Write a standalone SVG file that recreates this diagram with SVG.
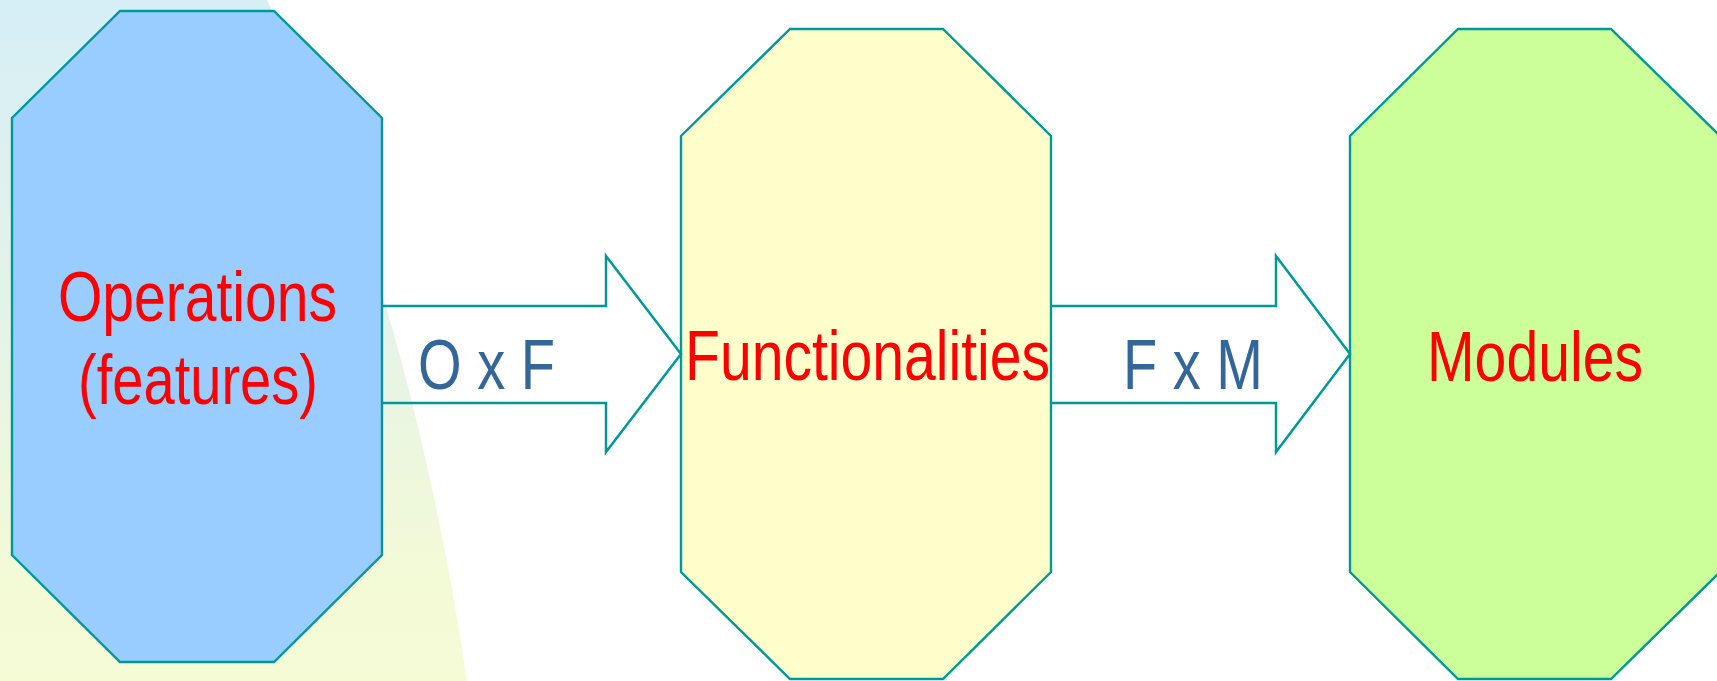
<svg xmlns="http://www.w3.org/2000/svg" width="1717" height="681" viewBox="0 0 1717 681">
  <defs>
    <linearGradient id="bgGrad" x1="0" y1="0" x2="0" y2="681" gradientUnits="userSpaceOnUse">
      <stop offset="0" stop-color="#d6eef6"/>
      <stop offset="0.5" stop-color="#e6f4e6"/>
      <stop offset="0.85" stop-color="#f3fad6"/>
      <stop offset="1" stop-color="#f4fbd5"/>
    </linearGradient>
  </defs>
  <style>
    .oct { stroke: #009999; stroke-width: 2.4; stroke-linejoin: miter; }
    .arrow { fill: none; stroke: #009999; stroke-width: 2.5; stroke-linejoin: miter; }
    .lbl { font-family: "Liberation Sans Narrow", "Liberation Sans", Arial, sans-serif; font-size: 71px; fill: #ff0000; }
    .rel { font-family: "Liberation Sans Narrow", "Liberation Sans", Arial, sans-serif; font-size: 70px; fill: #336699; }
  </style>
  <rect x="0" y="0" width="1717" height="681" fill="#ffffff"/>
  <path d="M0,0 L267,0 Q407,280 467,681 L0,681 Z" fill="url(#bgGrad)"/>

  <g id="node-operations">
    <polygon class="oct" fill="#99ccff" points="120,11 274,11 382,118 382,555 274,662 120,662 12,555 12,118"/>
    <text class="lbl" x="58" y="321" textLength="279" lengthAdjust="spacingAndGlyphs">Operations</text>
    <text class="lbl" x="78" y="404" textLength="240" lengthAdjust="spacingAndGlyphs">(features)</text>
  </g>

  <g id="node-functionalities">
    <polygon class="oct" fill="#ffffcc" points="790,29 943,29 1051,136 1051,572 943,679 790,679 681,572 681,136"/>
    <text class="lbl" x="685" y="380" textLength="365" lengthAdjust="spacingAndGlyphs">Functionalities</text>
  </g>

  <g id="node-modules">
    <polygon class="oct" fill="#ccff99" points="1458,29 1611,29 1720,136 1720,572 1611,679 1458,679 1350,572 1350,136"/>
    <text class="lbl" x="1427" y="381" textLength="216" lengthAdjust="spacingAndGlyphs">Modules</text>
  </g>

  <g id="connectors">
    <g id="arrow-OxF">
      <path class="arrow" d="M382,306 L606,306 L606,256 L681,354 L606,452 L606,403 L382,403"/>
      <text class="rel" x="418" y="389" textLength="137" lengthAdjust="spacingAndGlyphs">O x F</text>
    </g>
    <g id="arrow-FxM">
      <path class="arrow" d="M1051,306 L1276,306 L1276,256 L1350,354 L1276,452 L1276,403 L1051,403"/>
      <text class="rel" x="1123" y="389" textLength="140" lengthAdjust="spacingAndGlyphs">F x M</text>
    </g>
  </g>
</svg>
